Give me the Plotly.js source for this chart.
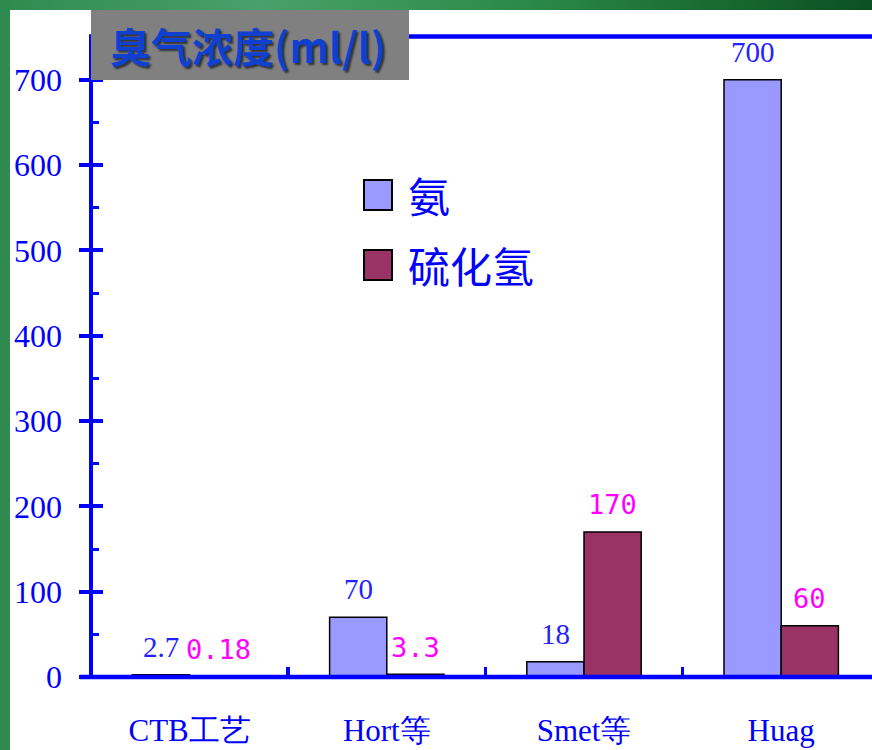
<!DOCTYPE html>
<html>
<head>
<meta charset="utf-8">
<script src="https://cdn.plot.ly/plotly-3.0.1.min.js"></script>
<style>
  html, body { margin: 0; padding: 0; width: 872px; height: 750px; overflow: hidden; }
  body { background: linear-gradient(90deg, #2f8a50 0%, #4aa06a 30%, #2b8a48 60%, #0b5021 100%); position: relative; }
  #chart { position: absolute; left: 10px; top: 10px; width: 862px; height: 740px; background: #fff; }
</style>
</head>
<body>
<div id="chart"></div>
<script>
// ---- data ----
const categories = ['CTB工艺', 'Hort等', 'Smet等', 'Huag'];
const seriesNames = ['氨', '硫化氢'];
const ammonia = [2.7, 70, 18, 700];
const h2s = [0.18, 3.3, 170, 60];
const ammoniaLabels = ['2.7', '70', '18', '700'];
const h2sLabels = ['0.18', '3.3', '170', '60'];
const yTickVals = [0, 100, 200, 300, 400, 500, 600, 700];
const chartTitle = '臭气浓度(ml/l)';

// ---- styles ----
const BLUE = '#0000ff';
const colors = ['#9999ff', '#993366'];

const traces = [
  { type: 'bar', name: seriesNames[0], x: categories, y: ammonia,
    marker: { color: colors[0], line: { color: '#000', width: 1.5 } }, hoverinfo: 'skip' },
  { type: 'bar', name: seriesNames[1], x: categories, y: h2s,
    marker: { color: colors[1], line: { color: '#000', width: 1.5 } }, hoverinfo: 'skip' },
  { type: 'scatter', x: [], y: [], yaxis: 'y2', showlegend: false, hoverinfo: 'skip' }
];

const annotations = [];
categories.forEach((c, i) => {
  annotations.push({ x: c, y: ammonia[i], xref: 'x', yref: 'y', text: ammoniaLabels[i],
    showarrow: false, xshift: -28.5, yshift: 28, yanchor: 'middle', xanchor: 'center',
    font: { family: 'Liberation Serif', size: 29, color: '#2222ff' } });
  annotations.push({ x: c, y: h2s[i], xref: 'x', yref: 'y', text: h2sLabels[i],
    showarrow: false, xshift: 28.5, yshift: 27, yanchor: 'middle', xanchor: 'center',
    font: { family: 'DejaVu Sans Mono', size: 27, color: '#ff00ff' } });
});

// plot area geometry (px within the chart div) for paper-positioned decorations
const PL = 83, PT = 27, PB = 73, PW = 862 - PL, PH = 740 - PT - PB;
const px = v => (v - PL) / PW;
const py = v => 1 - (v - PT) / PH;

const legendY = [185, 255];
const shapes = [
  // bottom axis line centred on the plot bottom (value 0), top frame line
  { type: 'line', xref: 'paper', yref: 'paper', x0: px(70), x1: 1, y0: 0, y1: 0,
    line: { color: BLUE, width: 4.5 }, layer: 'above' },
  { type: 'line', xref: 'paper', yref: 'paper', x0: px(79), x1: 1, y0: py(26.5), y1: py(26.5),
    line: { color: BLUE, width: 4.5 }, layer: 'above' },
  // title box
  { type: 'rect', xref: 'paper', yref: 'paper', x0: px(81), x1: px(399), y0: py(70), y1: py(0),
    fillcolor: '#808080', line: { width: 0 }, layer: 'above' }
];
seriesNames.forEach((n, i) => {
  shapes.push({ type: 'rect', xref: 'paper', yref: 'paper', x0: px(354), x1: px(382),
    y0: py(legendY[i] + 15), y1: py(legendY[i] - 15),
    fillcolor: colors[i], line: { color: '#000', width: 2 }, layer: 'above' });
  annotations.push({ xref: 'paper', yref: 'paper', x: px(396), y: py(legendY[i]), text: n,
    showarrow: false, xanchor: 'left', yanchor: 'middle',
    font: { family: 'Noto Sans CJK SC', size: 42, color: BLUE } });
});

annotations.push({ xref: 'paper', yref: 'paper', x: px(238), y: py(35), text: chartTitle,
  showarrow: false, xanchor: 'center', yanchor: 'middle',
  font: { family: 'Noto Sans CJK SC', size: 41, color: '#1040d0', weight: 'bold',
          shadow: '2px 2px 2px rgba(0,0,0,0.6)' } });

const catW = 197.2;           // px per category
const yRange = [0, 750];

const layout = {
  width: 862, height: 740,
  margin: { l: PL, r: 0, t: PT, b: PB, pad: 0 },
  paper_bgcolor: '#fff', plot_bgcolor: '#fff',
  showlegend: false,
  barmode: 'group', bargap: 0.42, bargroupgap: 0,
  xaxis: {
    type: 'category', range: [-0.5 + 2 / catW, -0.5 + 2 / catW + PW / catW],
    showline: false,
    ticks: 'inside', tickson: 'boundaries', ticklen: 10, tickwidth: 3.5, tickcolor: BLUE,
    ticklabelstandoff: 32,
    tickfont: { family: 'Liberation Serif', size: 31, color: BLUE },
    showgrid: false, zeroline: false, fixedrange: true
  },
  yaxis: {
    range: yRange, tickvals: yTickVals,
    showline: true, linecolor: BLUE, linewidth: 4.5,
    ticks: 'outside', ticklen: 10, tickwidth: 4, tickcolor: BLUE,
    ticklabelstandoff: 10,
    tickfont: { family: 'Liberation Serif', size: 32, color: BLUE },
    showgrid: false, zeroline: false, fixedrange: true
  },
  yaxis2: {
    overlaying: 'y', side: 'left', range: yRange, tickvals: yTickVals,
    showticklabels: false, showline: false, showgrid: false, zeroline: false,
    ticks: 'inside', ticklen: 10, tickwidth: 4, tickcolor: BLUE,
    minor: { ticks: 'inside', dtick: 50, tick0: 0, ticklen: 6, tickwidth: 3, tickcolor: BLUE, showgrid: false },
    fixedrange: true
  },
  shapes: shapes,
  annotations: annotations
};

Plotly.newPlot('chart', traces, layout, { displayModeBar: false, staticPlot: true });
</script>
</body>
</html>
